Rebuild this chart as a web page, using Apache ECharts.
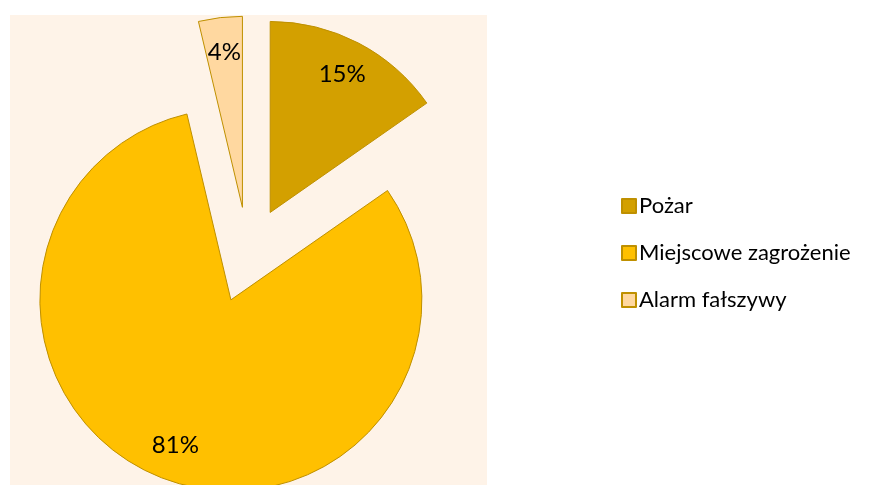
<!DOCTYPE html>
<html>
<head>
<meta charset="utf-8">
<script src="https://cdn.jsdelivr.net/npm/echarts@6/dist/echarts.min.js"></script>
<style>
    html, body { margin: 0; padding: 0; background: #fff; }
    #chart { width: 880px; height: 485px; }
</style>
</head>
<body>
<div id="chart"></div>
<script>
const names = ['Pożar', 'Miejscowe zagrożenie', 'Alarm fałszywy'];
const values = [15.3, 81.0, 3.7];
const colors = ['#D3A000', '#FFC000', '#FFD8A0'];

const R = 191;
const center = [248, 255];

const sliceData = names.map((name, i) => ({
    name: name,
    value: values[i],
    selected: true,
    itemStyle: { color: colors[i] }
}));

// second, see-through ring only carries the labels (puts them at ~0.8 r like excel)
const labelData = names.map((name, i) => ({
    name: name,
    value: values[i],
    selected: true
}));

const chart = echarts.init(document.getElementById('chart'));
chart.setOption({
    animation: false,
    backgroundColor: '#fff',
    graphic: [{
        type: 'rect',
        left: 10,
        top: 15,
        z: -10,
        shape: { width: 477, height: 470 },
        style: { fill: '#FEF3E8' }
    }],
    legend: {
        orient: 'vertical',
        left: 616,
        top: 190,
        icon: 'rect',
        itemWidth: 14,
        itemHeight: 14,
        itemGap: 25,
        data: names,
        textStyle: {
            fontFamily: 'Lato',
            fontSize: 22,
            lineHeight: 22,
            color: '#000',
            padding: [0, 0, 0, -2]
        }
    },
    series: [{
        type: 'pie',
        center: center,
        radius: R,
        startAngle: 90,
        selectedMode: 'multiple',
        selectedOffset: 48,
        avoidLabelOverlap: false,
        silent: true,
        itemStyle: { borderColor: '#BF9000', borderWidth: 1 },
        select: { itemStyle: { borderColor: '#BF9000', borderWidth: 1 } },
        emphasis: { scale: false },
        label: { show: false },
        labelLine: { show: false },
        data: sliceData
    }, {
        type: 'pie',
        center: center,
        radius: [R * 0.6, R],
        startAngle: 90,
        selectedMode: 'multiple',
        selectedOffset: 48,
        avoidLabelOverlap: false,
        percentPrecision: 0,
        silent: true,
        z: 3,
        itemStyle: { color: 'rgba(0,0,0,0)', borderWidth: 0 },
        select: { itemStyle: { color: 'rgba(0,0,0,0)', borderWidth: 0 } },
        emphasis: { scale: false },
        label: {
            position: 'inside',
            formatter: '{d}%',
            fontFamily: 'Lato',
            fontSize: 24,
            color: '#000'
        },
        labelLine: { show: false },
        data: labelData
    }]
});
</script>
</body>
</html>
